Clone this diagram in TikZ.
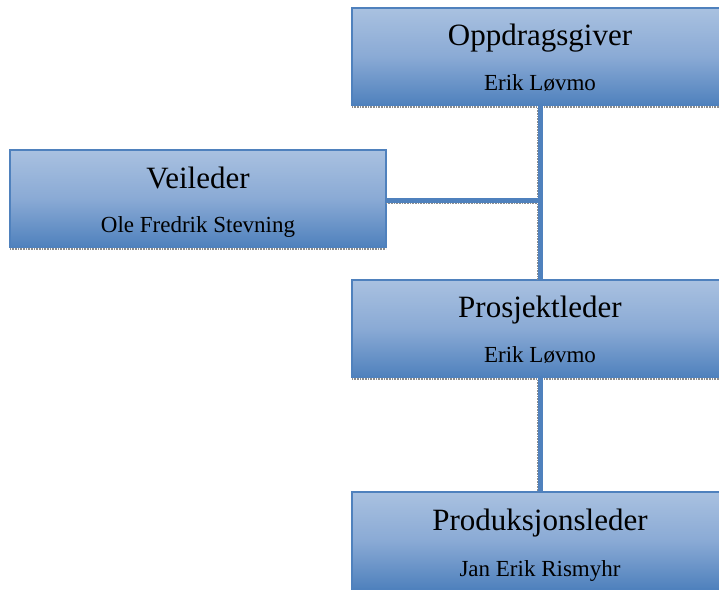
\documentclass[tikz,border=0pt]{standalone}
\usepackage{fontspec}
\setmainfont{Liberation Serif}
\definecolor{boxtop}{HTML}{A9C1E0}
\definecolor{boxmid}{HTML}{8AAAD5}
\definecolor{boxbot}{HTML}{4F81BD}
\definecolor{boxline}{HTML}{4F81BD}
\definecolor{connblue}{HTML}{4F81BD}
\definecolor{shade}{HTML}{8C8C8C}
\begin{document}
\begin{tikzpicture}[x=1pt,y=-1pt,
  orgbox/.style={draw=boxline, line width=1.3pt, top color=boxtop, bottom color=boxbot, middle color=boxmid,
    minimum width=376pt, minimum height=97pt, anchor=north west, inner sep=0pt, outer sep=0pt},
  titletext/.style={font=\fontsize{31}{34}\selectfont, anchor=base, inner sep=0pt},
  subtext/.style={font=\fontsize{23}{26}\selectfont, anchor=base, inner sep=0pt},
  conn/.style={draw=connblue, line width=4.2pt},
  cshadow/.style={draw=shade, line width=1.5pt, dash pattern=on 1pt off 0.6pt},
  shadowline/.style={draw=shade, line width=2pt, dash pattern=on 1pt off 0.6pt}]
\useasboundingbox (0,0) rectangle (719,589);
\clip (0,0) rectangle (719,589);
% boxes
\node[orgbox] (opp) at (352,8) {};
\node[orgbox] (veil) at (10,150) {};
\node[orgbox] (pros) at (352,280) {};
\node[orgbox] (prod) at (352,492) {};
% box shadows
\draw[shadowline] ([yshift=-2pt]opp.south west) -- ([yshift=-2pt]opp.south east);
\draw[shadowline] ([yshift=-2pt]veil.south west) -- ([yshift=-2pt]veil.south east);
\draw[shadowline] ([yshift=-2pt]pros.south west) -- ([yshift=-2pt]pros.south east);
% texts
\node[titletext] (opp-t) at ([yshift=-37pt]opp.north) {Oppdragsgiver};
\node[subtext] (opp-s) at ([yshift=-82pt]opp.north) {Erik Løvmo};
\node[titletext] (veil-t) at ([yshift=-38pt]veil.north) {Veileder};
\node[subtext] (veil-s) at ([yshift=-82pt]veil.north) {Ole Fredrik Stevning};
\node[titletext] (pros-t) at ([yshift=-37pt]pros.north) {Prosjektleder};
\node[subtext] (pros-s) at ([yshift=-82pt]pros.north) {Erik Løvmo};
\node[titletext] (prod-t) at ([yshift=-38pt]prod.north) {Produksjonsleder};
\node[subtext] (prod-s) at ([yshift=-84pt]prod.north) {Jan Erik Rismyhr};
% connector shadows
\draw[cshadow] ([xshift=-2.2pt,yshift=-3pt]opp.south) -- ([xshift=-2.2pt]pros.north);
\draw[cshadow] ([yshift=-5pt]veil.east) -- ([yshift=-5pt]veil.east -| opp.south);
\draw[cshadow] ([xshift=-2.2pt,yshift=-3pt]pros.south) -- ([xshift=-2.2pt]prod.north);
% connectors
\draw[conn] ([xshift=0.5pt]opp.south) -- ([xshift=0.5pt]pros.north);
\draw[conn] ([yshift=-2pt]veil.east) -- ([xshift=2.6pt,yshift=-2pt]veil.east -| opp.south);
\draw[conn] ([xshift=0.5pt]pros.south) -- ([xshift=0.5pt]prod.north);
\end{tikzpicture}
\end{document}
